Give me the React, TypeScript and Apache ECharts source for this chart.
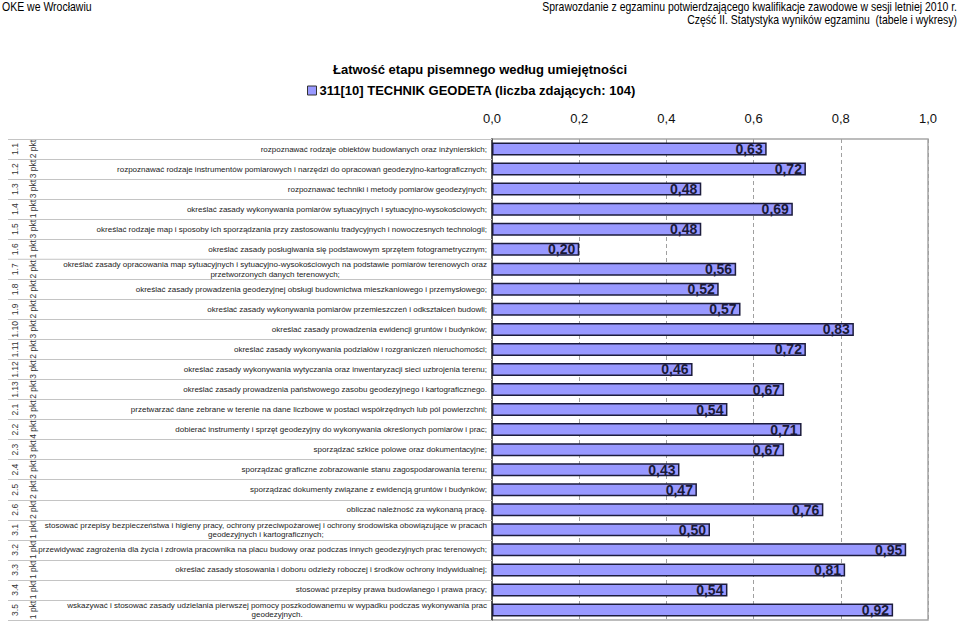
import React, { useEffect, useRef } from 'react';
import * as echarts from 'echarts';

const seriesName = '311[10] TECHNIK GEODETA (liczba zdających: 104)';
const chartTitle = 'Łatwość etapu pisemnego według umiejętności';
const headerLeft = 'OKE we Wrocławiu';
const headerRight1 = 'Sprawozdanie z egzaminu potwierdzającego kwalifikacje zawodowe w sesji letniej 2010 r.';
const headerRight2 = 'Część II. Statystyka wyników egzaminu  (tabele i wykresy)';

const categories = [
  'rozpoznawać rodzaje obiektów budowlanych oraz inżynierskich;',
  'rozpoznawać rodzaje instrumentów pomiarowych i narzędzi do opracowań geodezyjno-kartograficznych;',
  'rozpoznawać techniki i metody pomiarów geodezyjnych;',
  'określać zasady wykonywania pomiarów sytuacyjnych i sytuacyjno-wysokościowych;',
  'określać rodzaje map i sposoby ich sporządzania przy zastosowaniu tradycyjnych i nowoczesnych technologii;',
  'określać zasady posługiwania się podstawowym sprzętem fotogrametrycznym;',
  'określać zasady opracowania map sytuacyjnych i sytuacyjno-wysokościowych na podstawie pomiarów terenowych oraz\nprzetworzonych danych terenowych;',
  'określać zasady prowadzenia geodezyjnej obsługi budownictwa mieszkaniowego i przemysłowego;',
  'określać zasady wykonywania pomiarów przemieszczeń i odkształceń budowli;',
  'określać zasady prowadzenia ewidencji gruntów i budynków;',
  'określać zasady wykonywania podziałów i rozgraniczeń nieruchomości;',
  'określać zasady wykonywania wytyczania oraz inwentaryzacji sieci uzbrojenia terenu;',
  'określać zasady prowadzenia państwowego zasobu geodezyjnego i kartograficznego.',
  'przetwarzać dane zebrane w terenie na dane liczbowe w postaci współrzędnych lub pól powierzchni;',
  'dobierać instrumenty i sprzęt geodezyjny do wykonywania określonych pomiarów i prac;',
  'sporządzać szkice polowe oraz dokumentacyjne;',
  'sporządzać graficzne zobrazowanie stanu zagospodarowania terenu;',
  'sporządzać dokumenty związane z ewidencją gruntów i budynków;',
  'obliczać należność za wykonaną pracę.',
  'stosować przepisy bezpieczeństwa i higieny pracy, ochrony przeciwpożarowej i ochrony środowiska obowiązujące w pracach\ngeodezyjnych i kartograficznych;',
  'przewidywać zagrożenia dla życia i zdrowia pracownika na placu budowy oraz podczas innych geodezyjnych prac terenowych;',
  'określać zasady stosowania i doboru odzieży roboczej i środków ochrony indywidualnej;',
  'stosować przepisy prawa budowlanego i prawa pracy;',
  'wskazywać i stosować zasady udzielania pierwszej pomocy poszkodowanemu w wypadku podczas wykonywania prac\ngeodezyjnych.',
];

const codes = [
  '1.1', '1.2', '1.3', '1.4', '1.5', '1.6', '1.7', '1.8', '1.9', '1.10', '1.11', '1.12', '1.13',
  '2.1', '2.2', '2.3', '2.4', '2.5', '2.6',
  '3.1', '3.2', '3.3', '3.4', '3.5',
];

const points = [
  '2 pkt', '3 pkt', '3 pkt', '1 pkt', '3 pkt', '1 pkt', '2 pkt', '2 pkt', '2 pkt', '3 pkt', '2 pkt', '3 pkt', '2 pkt',
  '3 pkt', '4 pkt', '3 pkt', '2 pkt', '2 pkt', '2 pkt',
  '1 pkt', '1 pkt', '1 pkt', '1 pkt', '1 pkt',
];

const values = [
  0.63, 0.72, 0.48, 0.69, 0.48, 0.20, 0.56, 0.52, 0.57, 0.83, 0.72, 0.46, 0.67,
  0.54, 0.71, 0.67, 0.43, 0.47, 0.76,
  0.50, 0.95, 0.81, 0.54, 0.92,
];

const xMin = 0;
const xMax = 1;
const xStep = 0.2;

const FONT = 'Liberation Sans, Arial, sans-serif';

export default function App() {
  const ref = useRef<HTMLDivElement>(null);

  useEffect(() => {
    if (!ref.current) return;
    const chart = echarts.init(ref.current, null, { renderer: 'svg' });
    const comma = (v: number, d: number) => v.toFixed(d).replace('.', ',');

    const headerStyle = (text: string, align: string) => ({
      text,
      align,
      verticalAlign: 'top',
      font: '12px "Liberation Sans", Arial, sans-serif',
      fill: '#000',
    });

    const option: any = {
      animation: false,
      backgroundColor: '#ffffff',
      textStyle: { fontFamily: FONT },
      title: [
        {
          text: chartTitle, left: 'center', top: 63, padding: 0,
          textStyle: { fontFamily: FONT, fontSize: 13, fontWeight: 'bold', color: '#000' },
        },
      ],
      legend: {
        data: [seriesName],
        top: 84,
        left: 307,
        padding: 0,
        icon: 'rect',
        itemWidth: 9,
        itemHeight: 9,
        itemGap: 4,
        itemStyle: { borderColor: '#333', borderWidth: 1 },
        textStyle: { fontFamily: FONT, fontSize: 13, fontWeight: 'bold', color: '#000', padding: [0, 0, 0, -2] },
      },
      grid: {
        left: 492,
        right: 32,
        top: 139,
        bottom: 2,
        show: true,
        borderColor: '#a6a6a6',
        borderWidth: 1.5,
        backgroundColor: 'transparent',
      },
      xAxis: {
        type: 'value',
        position: 'top',
        min: xMin,
        max: xMax,
        interval: xStep,
        axisLine: { show: false },
        axisTick: { show: false },
        axisLabel: {
          formatter: (v: number) => comma(v, 1),
          fontSize: 13,
          color: '#111',
          margin: 14,
          fontFamily: FONT,
        },
        splitLine: { show: true, lineStyle: { type: [4, 3], color: '#a0a0a0', width: 1 } },
      },
      yAxis: [
        {
          type: 'category',
          data: categories,
          inverse: true,
          axisLine: { show: true, lineStyle: { color: '#333', width: 1.5 } },
          axisTick: { show: true, length: 484, lineStyle: { color: '#c4c4c4', width: 1 } },
          axisLabel: {
            interval: 0,
            margin: 5,
            formatter: (v: string) => v.split('\n').map((l) => `{c|${l}}`).join('\n'),
            rich: {
              c: { align: 'center', fontSize: 8, lineHeight: 9.5, color: '#222', fontFamily: FONT },
            },
          },
        },
      ],
      series: [
        {
          type: 'bar',
          name: seriesName,
          data: values,
          barWidth: 13,
          itemStyle: { color: '#9999ff', borderColor: '#1c1c3c', borderWidth: 1.5 },
          label: {
            show: true,
            position: 'insideRight',
            distance: 4,
            formatter: (p: any) => comma(p.value, 2),
            fontFamily: FONT,
            fontWeight: 'bold',
            fontSize: 14,
            color: '#1a1a38',
          },
        },
      ],
    };

    chart.setOption(option);

    const graphics: any[] = [
      { type: 'text', x: 2, y: 1, scaleX: 0.875, style: headerStyle(headerLeft, 'left') },
      { type: 'text', x: 957, y: 1, scaleX: 0.873, style: headerStyle(headerRight1, 'right') },
      { type: 'text', x: 957, y: 14, scaleX: 0.873, style: headerStyle(headerRight2, 'right') },
    ];
    codes.forEach((c, i) => {
      const y = chart.convertToPixel({ yAxisIndex: 0 }, categories[i]) as number;
      graphics.push({
        type: 'text',
        x: 15,
        y,
        rotation: Math.PI / 2,
        style: { text: c, align: 'center', verticalAlign: 'middle', font: '8.5px "Liberation Sans", Arial, sans-serif', fill: '#333' },
      });
      graphics.push({
        type: 'text',
        x: 33,
        y,
        rotation: Math.PI / 2,
        style: { text: points[i], align: 'center', verticalAlign: 'middle', font: '8.5px "Liberation Sans", Arial, sans-serif', fill: '#333' },
      });
    });
    chart.setOption({ graphic: graphics });

    return () => chart.dispose();
  }, []);

  return <div ref={ref} style={{ width: 960, height: 622, position: 'absolute', left: 0, top: 0 }} />;
}
